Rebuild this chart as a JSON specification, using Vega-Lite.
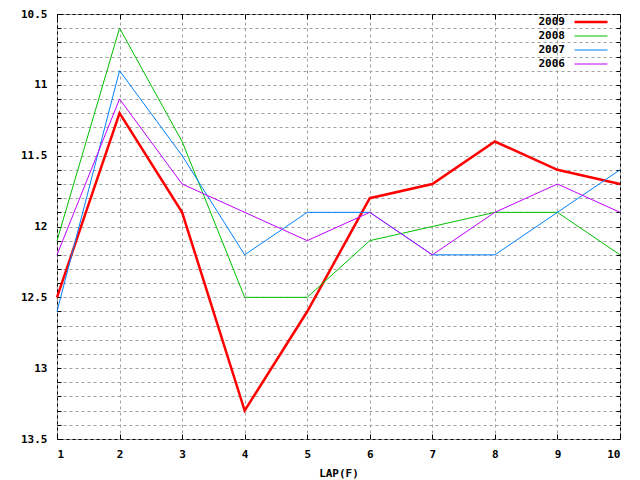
{
  "$schema": "https://vega.github.io/schema/vega-lite/v6.json",
  "width": 563,
  "height": 425,
  "autosize": {"type": "none"},
  "padding": {"left": 57, "top": 14, "right": 20, "bottom": 41},
  "background": "white",
  "config": {
    "view": {"stroke": "black", "strokeWidth": 1},
    "font": "DejaVu Sans Mono",
    "axis": {
      "labelFont": "DejaVu Sans Mono",
      "labelFontWeight": "bold",
      "labelFontSize": 11,
      "labelColor": "black",
      "titleFont": "DejaVu Sans Mono",
      "titleFontWeight": "bold",
      "titleFontSize": 11,
      "titleColor": "black",
      "domain": false,
      "tickColor": "black",
      "gridColor": "#a0a0a0",
      "gridDash": [3, 3],
      "gridOpacity": 1,
      "gridWidth": 1
    }
  },
  "data": {
    "values": [
      {"lap": 1, "year": "2009", "time": 12.5},
      {"lap": 2, "year": "2009", "time": 11.2},
      {"lap": 3, "year": "2009", "time": 11.9},
      {"lap": 4, "year": "2009", "time": 13.3},
      {"lap": 5, "year": "2009", "time": 12.6},
      {"lap": 6, "year": "2009", "time": 11.8},
      {"lap": 7, "year": "2009", "time": 11.7},
      {"lap": 8, "year": "2009", "time": 11.4},
      {"lap": 9, "year": "2009", "time": 11.6},
      {"lap": 10, "year": "2009", "time": 11.7},
      {"lap": 1, "year": "2008", "time": 12.1},
      {"lap": 2, "year": "2008", "time": 10.6},
      {"lap": 3, "year": "2008", "time": 11.4},
      {"lap": 4, "year": "2008", "time": 12.5},
      {"lap": 5, "year": "2008", "time": 12.5},
      {"lap": 6, "year": "2008", "time": 12.1},
      {"lap": 7, "year": "2008", "time": 12.0},
      {"lap": 8, "year": "2008", "time": 11.9},
      {"lap": 9, "year": "2008", "time": 11.9},
      {"lap": 10, "year": "2008", "time": 12.2},
      {"lap": 1, "year": "2007", "time": 12.6},
      {"lap": 2, "year": "2007", "time": 10.9},
      {"lap": 3, "year": "2007", "time": 11.5},
      {"lap": 4, "year": "2007", "time": 12.2},
      {"lap": 5, "year": "2007", "time": 11.9},
      {"lap": 6, "year": "2007", "time": 11.9},
      {"lap": 7, "year": "2007", "time": 12.2},
      {"lap": 8, "year": "2007", "time": 12.2},
      {"lap": 9, "year": "2007", "time": 11.9},
      {"lap": 10, "year": "2007", "time": 11.6},
      {"lap": 1, "year": "2006", "time": 12.2},
      {"lap": 2, "year": "2006", "time": 11.1},
      {"lap": 3, "year": "2006", "time": 11.7},
      {"lap": 4, "year": "2006", "time": 11.9},
      {"lap": 5, "year": "2006", "time": 12.1},
      {"lap": 6, "year": "2006", "time": 11.9},
      {"lap": 7, "year": "2006", "time": 12.2},
      {"lap": 8, "year": "2006", "time": 11.9},
      {"lap": 9, "year": "2006", "time": 11.7},
      {"lap": 10, "year": "2006", "time": 11.9}
    ]
  },
  "layer": [
    {
      "mark": {"type": "line", "interpolate": "linear"},
      "encoding": {
        "x": {
          "field": "lap", "type": "quantitative",
          "scale": {"domain": [1, 10], "nice": false, "zero": false},
          "axis": {
            "orient": "bottom",
            "title": "LAP(F)",
            "values": [1, 2, 3, 4, 5, 6, 7, 8, 9, 10],
            "format": "d",
            "grid": true,
            "tickSize": -5,
            "labelPadding": 14,
            "titlePadding": 8
          }
        },
        "y": {
          "field": "time", "type": "quantitative",
          "scale": {"domain": [10.5, 13.5], "reverse": true, "nice": false, "zero": false},
          "axis": {
            "orient": "left",
            "title": null,
            "values": [10.5, 10.6, 10.7, 10.8, 10.9, 11, 11.1, 11.2, 11.3, 11.4, 11.5, 11.6, 11.7, 11.8, 11.9, 12, 12.1, 12.2, 12.3, 12.4, 12.5, 12.6, 12.7, 12.8, 12.9, 13, 13.1, 13.2, 13.3, 13.4, 13.5],
            "labelExpr": "abs(datum.value * 2 - round(datum.value * 2)) < 0.001 ? (abs(datum.value - round(datum.value)) < 0.001 ? format(datum.value, 'd') : format(datum.value, '.1f')) : ''",
            "grid": true,
            "tickSize": -4,
            "labelPadding": 14
          }
        },
        "color": {
          "field": "year", "type": "nominal",
          "scale": {"domain": ["2009", "2008", "2007", "2006"], "range": ["#ff0000", "#00c000", "#0080ff", "#c000ff"]},
          "legend": {
            "title": null,
            "orient": "none",
            "legendX": 527,
            "legendY": 1,
            "symbolType": "M-3,0H3",
            "symbolSize": 121,
            "symbolFillColor": "transparent",
            "labelAlign": "right",
            "labelOffset": -33,
            "labelFont": "DejaVu Sans Mono",
            "labelFontWeight": "bold",
            "labelFontSize": 11,
            "labelColor": "black",
            "rowPadding": 3,
            "padding": 0
          }
        },
        "strokeWidth": {
          "field": "year", "type": "nominal",
          "scale": {"type": "ordinal", "domain": ["2009", "2008", "2007", "2006"], "range": [2.5, 1, 1, 1]}
        }
      }
    },
    {
      "mark": {"type": "point", "opacity": 0},
      "encoding": {
        "x": {
          "field": "lap", "type": "quantitative",
          "axis": {"orient": "top", "title": null, "labels": false, "grid": false, "values": [1, 2, 3, 4, 5, 6, 7, 8, 9, 10], "tickSize": -5}
        },
        "y": {
          "field": "time", "type": "quantitative",
          "axis": {"orient": "right", "title": null, "labels": false, "grid": false, "values": [10.5, 10.6, 10.7, 10.8, 10.9, 11, 11.1, 11.2, 11.3, 11.4, 11.5, 11.6, 11.7, 11.8, 11.9, 12, 12.1, 12.2, 12.3, 12.4, 12.5, 12.6, 12.7, 12.8, 12.9, 13, 13.1, 13.2, 13.3, 13.4, 13.5], "tickSize": -4}
        }
      }
    }
  ],
  "resolve": {"axis": {"x": "independent", "y": "independent"}}
}
